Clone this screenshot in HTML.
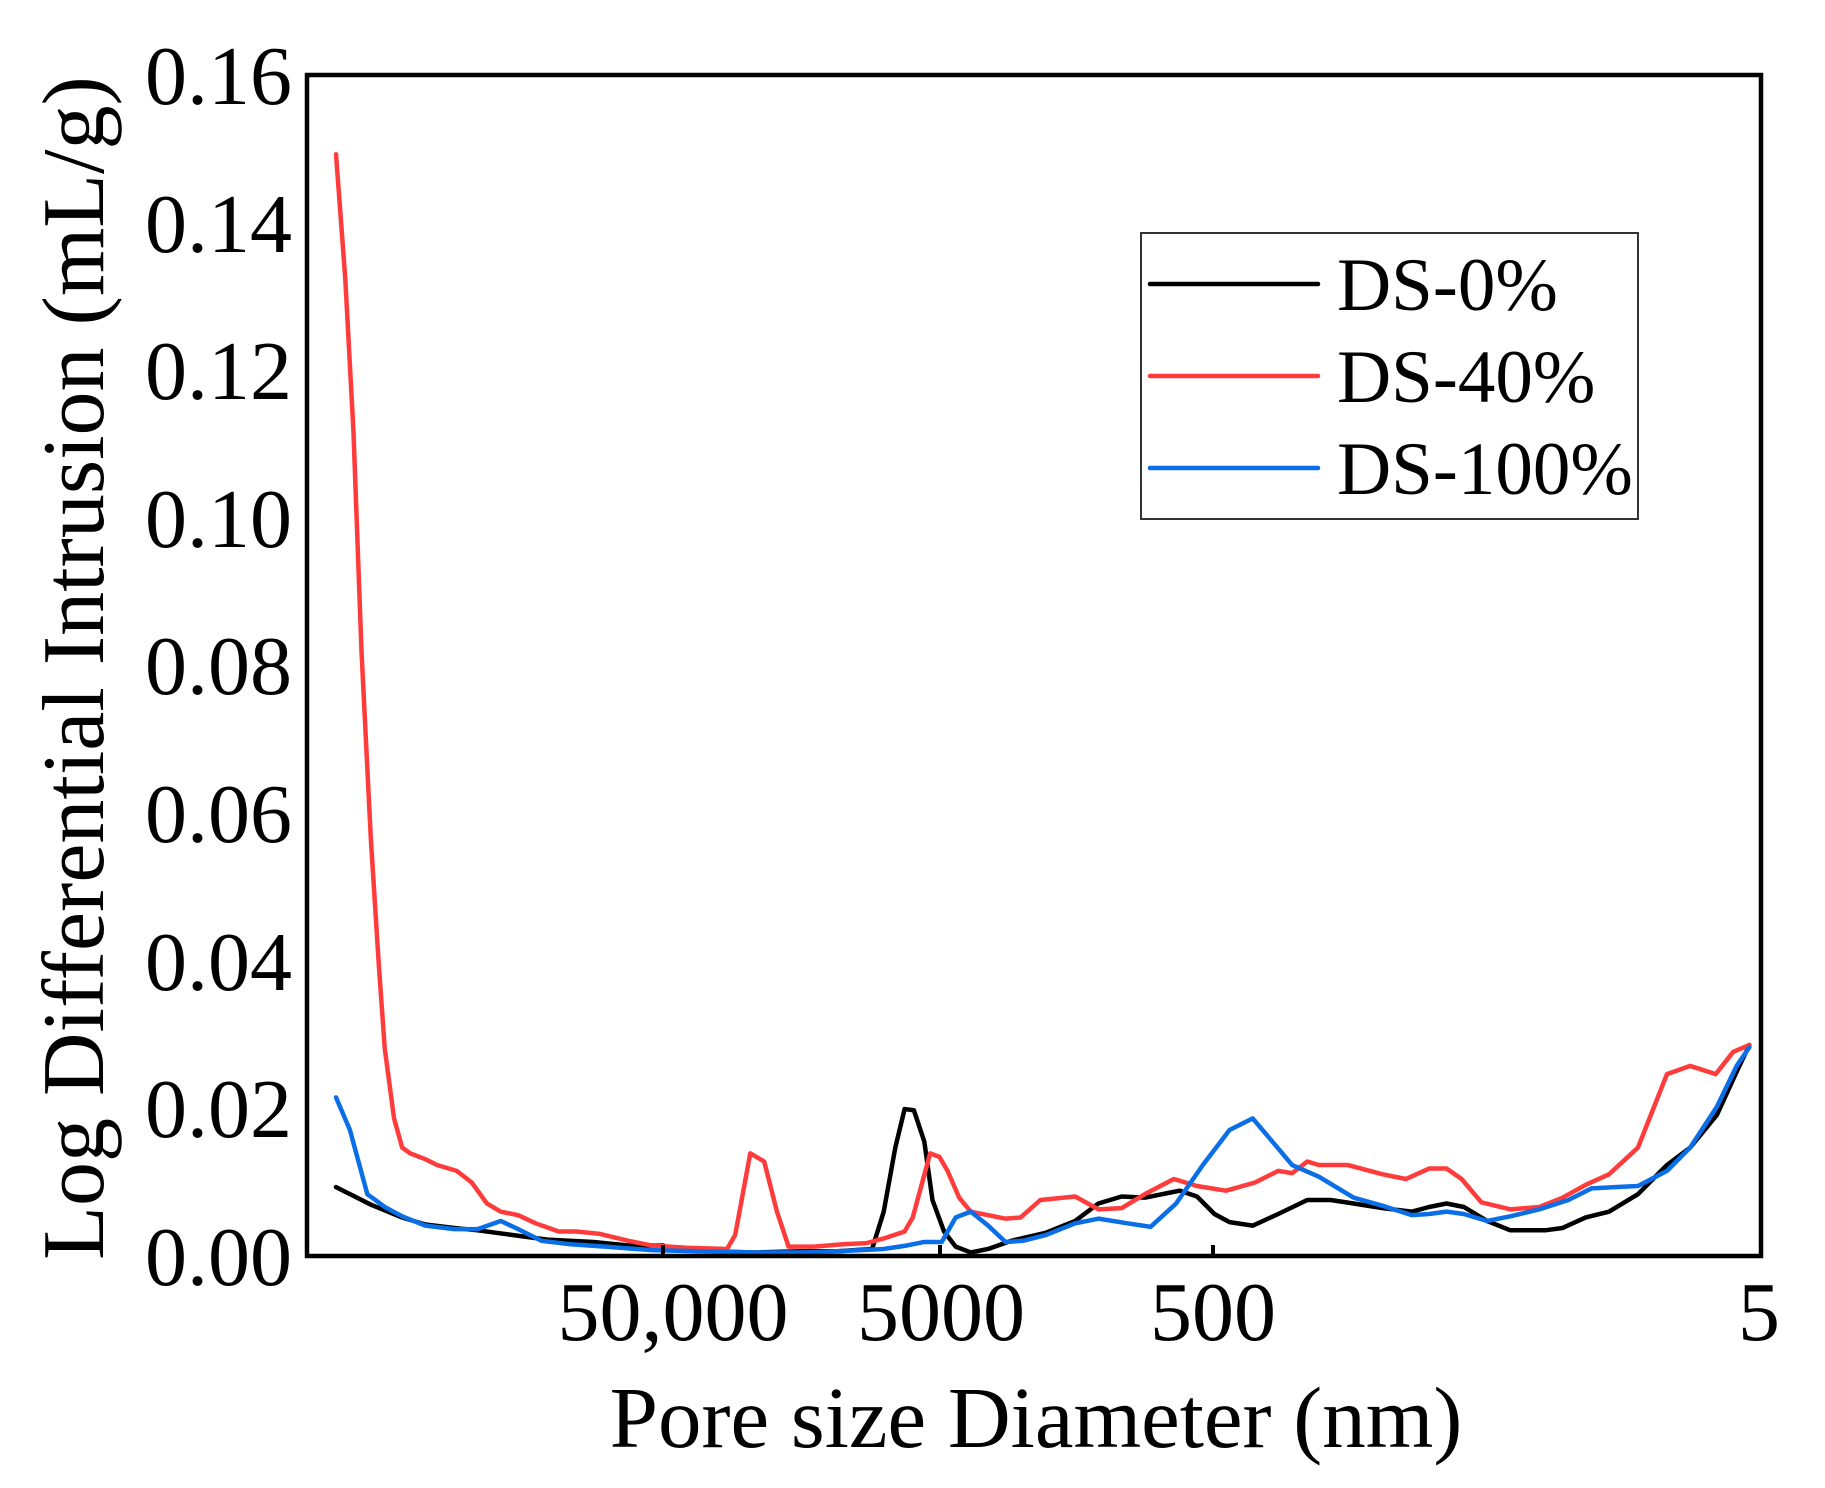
<!DOCTYPE html>
<html><head><meta charset="utf-8"><style>
html,body{margin:0;padding:0;background:#fff;}
svg{display:block;font-family:"Liberation Serif","Times New Roman",serif;}
</style></head><body>
<svg width="1825" height="1488" viewBox="0 0 1825 1488" xmlns="http://www.w3.org/2000/svg">
<rect width="1825" height="1488" fill="#fff"/>
<g transform="translate(307,75) scale(1.1604,1.1658) translate(-263,-65)" fill="none" stroke-width="4.5" stroke-linejoin="round" stroke-linecap="round">
<polyline vector-effect="non-scaling-stroke" stroke="#000" points="288,1019 300,1025 318,1034 345,1045 365,1051 390,1054 410,1056 440,1060 470,1064 510,1066 540,1069 570,1069 575,1072 610,1074 650,1075 690,1074 720,1074 750,1072 760,1040 770,985 778,952 786,953 795,980 802,1030 812,1057 822,1070 835,1075 850,1072 870,1065 900,1058 925,1048 945,1033 965,1027 985,1028 1005,1024 1015,1022 1030,1027 1045,1042 1058,1049 1078,1052 1100,1042 1125,1030 1145,1030 1165,1033 1190,1037 1215,1040 1230,1036 1245,1033 1260,1036 1280,1048 1300,1056 1330,1056 1345,1054 1365,1045 1385,1040 1410,1025 1435,1000 1455,985 1478,957 1495,920 1506,897"/>
<polyline vector-effect="non-scaling-stroke" stroke="#ff3b3b" points="288,133 296,240 303,370 310,560 318,720 325,830 330,900 338,960 345,985 352,990 365,995 375,1000 392,1005 405,1015 418,1033 430,1040 445,1043 460,1050 480,1057 495,1057 515,1059 540,1065 560,1069 590,1071 625,1072 632,1060 645,990 657,997 668,1040 678,1070 700,1070 725,1068 745,1067 760,1063 778,1057 785,1045 800,990 808,993 815,1005 825,1028 835,1040 850,1043 865,1046 878,1045 895,1030 925,1027 945,1038 965,1037 985,1025 1010,1012 1030,1018 1055,1022 1080,1015 1100,1005 1112,1007 1125,997 1135,1000 1160,1000 1190,1008 1210,1012 1230,1003 1245,1003 1258,1012 1275,1032 1300,1038 1325,1036 1345,1028 1365,1017 1385,1008 1410,985 1435,922 1455,915 1477,922 1492,903 1506,897"/>
<polyline vector-effect="non-scaling-stroke" stroke="#0a6fe6" points="288,942 300,970 315,1025 330,1036 345,1044 365,1052 390,1055 410,1055 430,1048 445,1055 465,1065 490,1068 520,1070 560,1073 600,1074 650,1075 690,1075 720,1074 760,1072 780,1069 795,1066 810,1066 822,1045 835,1040 850,1052 865,1066 880,1065 900,1060 925,1050 945,1046 970,1050 990,1053 1012,1033 1035,1000 1058,970 1078,960 1095,980 1112,1000 1135,1010 1165,1028 1190,1035 1215,1043 1230,1042 1245,1040 1260,1042 1280,1048 1300,1044 1325,1038 1350,1030 1370,1020 1390,1019 1410,1018 1435,1005 1455,985 1478,950 1495,915 1506,899"/>
</g>
<rect x="307" y="75" width="1454" height="1181" fill="none" stroke="#000" stroke-width="4.5"/>
<g stroke="#000" stroke-width="4">
<line x1="663" y1="1256" x2="663" y2="1245"/>
<line x1="940" y1="1256" x2="940" y2="1245"/>
<line x1="1213" y1="1256" x2="1213" y2="1245"/>
</g>
<g font-size="84" text-anchor="end" fill="#000">
<text x="292" y="1285">0.00</text>
<text x="292" y="1137">0.02</text>
<text x="292" y="990">0.04</text>
<text x="292" y="842">0.06</text>
<text x="292" y="694">0.08</text>
<text x="292" y="547">0.10</text>
<text x="292" y="399">0.12</text>
<text x="292" y="252">0.14</text>
<text x="292" y="104">0.16</text>
</g>
<g font-size="84" text-anchor="middle" fill="#000">
<text x="673" y="1340">50,000</text>
<text x="941" y="1340">5000</text>
<text x="1213" y="1340">500</text>
<text x="1759" y="1340">5</text>
</g>
<text x="1036" y="1447" font-size="87" text-anchor="middle">Pore size Diameter (nm)</text>
<text transform="translate(103,668) rotate(-90)" font-size="88" text-anchor="middle">Log Differential Intrusion (mL/g)</text>
<rect x="1141" y="233" width="497" height="286" fill="#fff" stroke="#333" stroke-width="2"/>
<g stroke-width="4.5" stroke-linecap="round">
<line x1="1150" y1="284" x2="1318" y2="284" stroke="#000"/>
<line x1="1150" y1="376" x2="1318" y2="376" stroke="#ff3b3b"/>
<line x1="1150" y1="468" x2="1318" y2="468" stroke="#0a6fe6"/>
</g>
<g font-size="75" fill="#000">
<text x="1337" y="310">DS-0%</text>
<text x="1337" y="402">DS-40%</text>
<text x="1337" y="494">DS-100%</text>
</g>
</svg>
</body></html>
